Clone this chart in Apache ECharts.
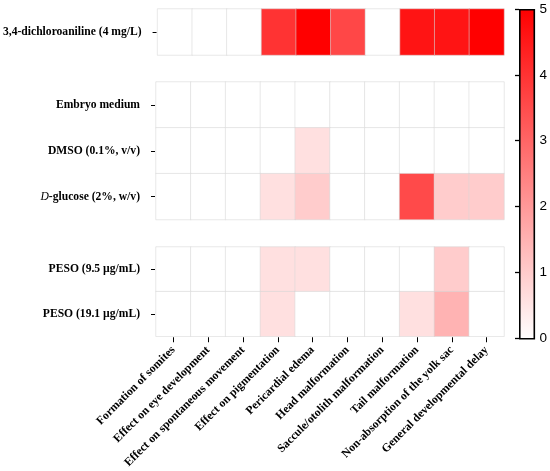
<!DOCTYPE html>
<html><head><meta charset="utf-8">
<script src="https://cdn.jsdelivr.net/npm/echarts@6/dist/echarts.min.js"></script>
<style>html,body{margin:0;padding:0;background:#fff}#c{width:550px;height:471px}</style>
</head><body><div id="c"></div>
<script>
const effects = ['Formation of somites','Effect on eye development','Effect on spontaneous movement','Effect on pigmentation','Pericardial edema','Head malformation','Saccule/otolith malformation','Tail malformation','Non-absorption of the yolk sac','General developmental delay'];
const groupA = ['3,4-dichloroaniline (4 mg/L)'];
const groupB = ['Embryo medium','DMSO (0.1%, v/v)','D-glucose (2%, w/v)'];
const groupC = ['PESO (9.5 µg/mL)','PESO (19.1 µg/mL)'];
const dca = [0,0,0,4.0,5,3.6,0,4.6,4.6,5];
const embryoMedium = [0,0,0,0,0,0,0,0,0,0];
const dmso = [0,0,0,0,0.6,0,0,0,0,0];
const dGlucose = [0,0,0,0.6,1.0,0,0,3.55,1.0,1.0];
const peso95 = [0,0,0,0.6,0.6,0,0,0,1.0,0];
const peso191 = [0,0,0,0.6,0,0,0,0.6,1.5,0];
const colorTicks = [0,1,2,3,4,5];
const colorRange = ['#ffffff','#ff0000'];

const groups = [
  {rows: groupA, vals: [dca]},
  {rows: groupB, vals: [embryoMedium, dmso, dGlucose]},
  {rows: groupC, vals: [peso95, peso191]}
];
const gridPos = [{top:9,height:46},{top:82,height:137.5},{top:247,height:91}];
const SERIF = 'Liberation Serif';

const grids = [], xAxes = [], yAxes = [], series = [];
groups.forEach((g, gi) => {
  grids.push({left:156, width:348, top:gridPos[gi].top, height:gridPos[gi].height, containLabel:false});
  const last = gi === groups.length - 1;
  xAxes.push({
    type:'category', gridIndex:gi, data:effects, position:'bottom', offset:1,
    axisLine:{show:false}, splitLine:{show:false},
    axisTick:{show:last, alignWithLabel:true, length:5, lineStyle:{color:'#000', width:1}},
    axisLabel:{show:last, rotate:45, margin:11, fontFamily:SERIF, fontWeight:'bold', fontSize:11.7, color:'#000', interval:0}
  });
  yAxes.push({
    type:'category', gridIndex:gi, data:g.rows, inverse:true, offset:1,
    axisLine:{show:false}, splitLine:{show:false},
    axisTick:{show:true, alignWithLabel:true, length:4, lineStyle:{color:'#000', width:1}},
    axisLabel:{margin:15, fontFamily:SERIF, fontWeight:'bold', fontSize:11.6, color:'#000',
      formatter: v => v.startsWith('D-') ? '{i|D}' + v.slice(1) : v,
      rich:{i:{fontFamily:SERIF, fontStyle:'italic', fontWeight:'normal', fontSize:11.6, color:'#000'}}}
  });
  const data = [];
  g.vals.forEach((row, ri) => row.forEach((v, ci) => data.push([ci, ri, v])));
  series.push({type:'heatmap', xAxisIndex:gi, yAxisIndex:gi, data,
    itemStyle:{borderColor:'rgba(215,215,215,0.55)', borderWidth:1},
    emphasis:{disabled:true}});
});

// colorbar axis
const CB = {left:519, top:9, width:14.5, height:329};
grids.push({left:CB.left, width:CB.width, top:CB.top, height:CB.height});
xAxes.push({type:'value', gridIndex:3, show:false, min:0, max:1});
yAxes.push({type:'value', gridIndex:3, position:'right', z:50, min:colorTicks[0], max:colorTicks[colorTicks.length-1], interval:1,
  axisLine:{show:false}, splitLine:{show:false},
  axisTick:{show:true, inside:true, length:4, lineStyle:{color:'#000', width:1.3}},
  axisLabel:{margin:6, fontFamily:'Liberation Sans', fontSize:13.5, color:'#000'}});

const chart = echarts.init(document.getElementById('c'));
chart.setOption({
  animation:false,
  backgroundColor:'#fff',
  grid:grids, xAxis:xAxes, yAxis:yAxes, series,
  visualMap:{type:'continuous', min:colorTicks[0], max:colorTicks[colorTicks.length-1], seriesIndex:[0,1,2], show:false,
    inRange:{color:colorRange}},
  graphic:[
    {type:'rect', left:CB.left, top:CB.top, z:1, shape:{width:CB.width, height:CB.height},
      style:{fill:new echarts.graphic.LinearGradient(0,1,0,0,[{offset:0,color:colorRange[0]},{offset:1,color:colorRange[1]}]), stroke:'#000', lineWidth:1.6}}
  ]
});
</script></body></html>
